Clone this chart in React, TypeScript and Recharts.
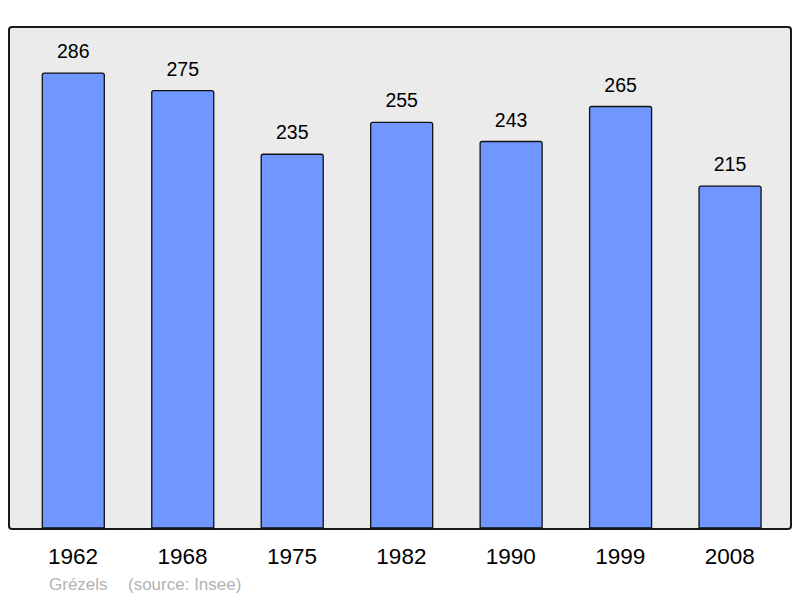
import React from 'react';
import { BarChart, Bar, XAxis, YAxis, LabelList } from 'recharts';

const years = ['1962', '1968', '1975', '1982', '1990', '1999', '2008'];
const population = [286, 275, 235, 255, 243, 265, 215];
const footerLabel = 'Grézels';
const footerSource = '(source: Insee)';

const data = years.map((y, i) => ({ year: y, value: population[i] }));

const FONT = '"Liberation Sans", Arial, sans-serif';

export default function App() {
  return (
    <div style={{ position: 'absolute', left: 0, top: 0, width: 800, height: 598, background: '#ffffff', fontFamily: FONT }}>
      <div
        style={{
          position: 'absolute',
          left: 8,
          top: 26,
          width: 784,
          height: 504,
          boxSizing: 'border-box',
          border: '2px solid #1a1a1a',
          borderRadius: 4,
          background: '#ebebeb',
        }}
      />
      <div style={{ position: 'absolute', left: 0, top: 0 }}>
        <BarChart
          width={800}
          height={598}
          data={data}
          margin={{ top: 27, right: 9, left: 9, bottom: 20 }}
          barCategoryGap={0}
        >
          <XAxis
            dataKey="year"
            axisLine={false}
            tickLine={false}
            tickSize={0}
            tickMargin={20}
            height={50}
            padding={{ left: 9.3, right: 6.5 }}
            interval={0}
            tick={{ fill: '#000000', fontSize: 22.5, fontFamily: FONT }}
          />
          <YAxis hide domain={[0, 315]} />
          <Bar
            dataKey="value"
            fill="#7096ff"
            stroke="#111111"
            strokeWidth={1.3}
            barSize={62}
            radius={[2, 2, 0, 0]}
            isAnimationActive={false}
          >
            <LabelList
              dataKey="value"
              position="top"
              offset={15}
              style={{ fill: '#000000', fontSize: 19.5, fontFamily: FONT }}
            />
          </Bar>
        </BarChart>
      </div>
      <div
        style={{
          position: 'absolute',
          left: 49,
          top: 575,
          fontSize: 17,
          color: '#b3b3b3',
          fontFamily: FONT,
          whiteSpace: 'pre',
          lineHeight: '20px',
        }}
      >
        <span>{footerLabel}</span>
        <span style={{ position: 'absolute', left: 79 }}>{footerSource}</span>
      </div>
    </div>
  );
}
